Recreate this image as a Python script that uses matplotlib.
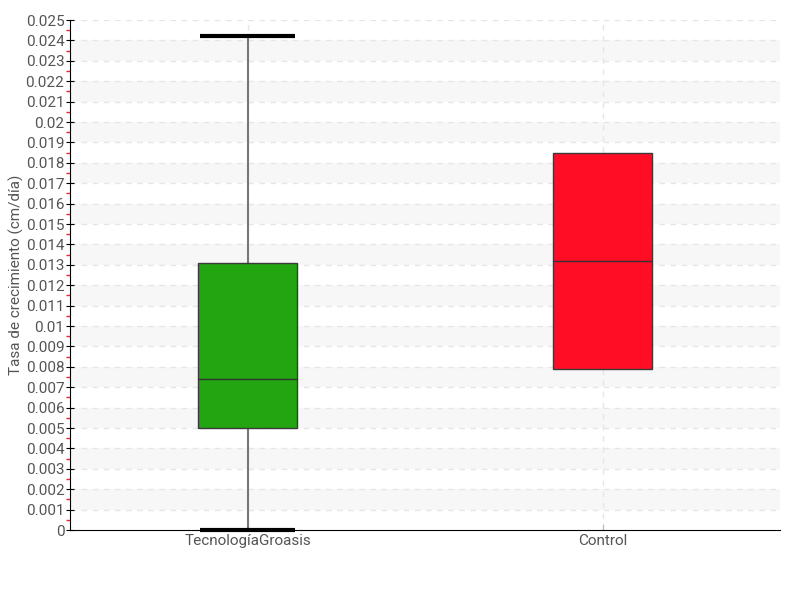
import matplotlib
matplotlib.use("Agg")
import matplotlib.pyplot as plt
from matplotlib.ticker import FixedLocator, FuncFormatter
from matplotlib import font_manager

# ── data ─────────────────────────────────────────────────────────
categories = ["TecnologíaGroasis", "Control"]
q1 = [0.0050, 0.0079]
median = [0.0074, 0.0132]
q3 = [0.0131, 0.0185]
wh_low = [0.0, 0.0079]
wh_high = [0.0242, 0.0185]
box_colors = ["#22a511", "#ff0d25"]
show_caps = [True, False]

# ── font ─────────────────────────────────────────────────────────
names = {f.name for f in font_manager.fontManager.ttflist}
family = "Liberation Sans Narrow" if "Liberation Sans Narrow" in names else "Roboto"
plt.rcParams["font.family"] = [family, "DejaVu Sans"]

fig = plt.figure(figsize=(8, 6), dpi=100)
ax = fig.add_axes([70 / 800, 70 / 600, 710 / 800, 510 / 600])

ymax = 0.025
ax.set_xlim(-0.5, 1.5)
ax.set_ylim(0, ymax)

# alternating bands
for k in range(12):
    lo = k * 0.002 + 0.001
    ax.axhspan(lo, lo + 0.001, color="#f7f7f7", zorder=0, lw=0)

majors = [i * 0.001 for i in range(26)]
for v in majors[1:]:
    ax.axhline(v, color="#e6e6e6", lw=1, ls=(0, (4, 4)), zorder=0.5)
for i in range(len(categories)):
    ax.axvline(i, color="#e6e6e6", lw=1, ls=(0, (4, 4)), zorder=0.5)

stats = []
for i, name in enumerate(categories):
    stats.append(dict(label=name, q1=q1[i], med=median[i], q3=q3[i],
                      whislo=wh_low[i], whishi=wh_high[i], fliers=[]))

bp = ax.bxp(stats, positions=range(len(categories)), widths=0.28,
            patch_artist=True, showcaps=False, showfliers=False,
            manage_ticks=False, zorder=3)
for patch, c in zip(bp["boxes"], box_colors):
    patch.set_facecolor(c)
    patch.set_edgecolor("#3a3a3a")
    patch.set_linewidth(1)
for m in bp["medians"]:
    m.set_color("#333333")
    m.set_linewidth(1)
for w in bp["whiskers"]:
    w.set_color("#777777")
    w.set_linewidth(1.5)
    w.set_zorder(2)

# thick black caps
for i in range(len(categories)):
    if show_caps[i]:
        for v in (wh_low[i], wh_high[i]):
            ax.plot([i - 0.135, i + 0.135], [v, v], color="black", lw=3,
                    solid_capstyle="butt", zorder=4, clip_on=False)

ax.set_xticks(range(len(categories)))
ax.set_xticklabels(categories)
ax.yaxis.set_major_locator(FixedLocator(majors))
ax.yaxis.set_minor_locator(FixedLocator([v + 0.0005 for v in majors[:-1]]))
ax.yaxis.set_major_formatter(FuncFormatter(
    lambda v, p: f"{v:.3f}".rstrip("0").rstrip(".") if v else "0"))

ax.tick_params(axis="y", which="major", direction="inout", length=6,
               color="black", labelsize=11, labelcolor="#555555", pad=1)
ax.tick_params(axis="y", which="minor", direction="out", length=3,
               width=1, color="#ff2020")
ax.tick_params(axis="x", direction="in", length=4, color="#bbbbbb",
               labelsize=11, labelcolor="#555555", pad=3)

for s in ("top", "right"):
    ax.spines[s].set_visible(False)
ax.spines["left"].set_color("black")
ax.spines["bottom"].set_color("black")

ax.set_ylabel("Tasa de crecimiento (cm/día)", fontsize=11, color="#555555",
              labelpad=1)

fig.savefig("out.png", dpi=100)
